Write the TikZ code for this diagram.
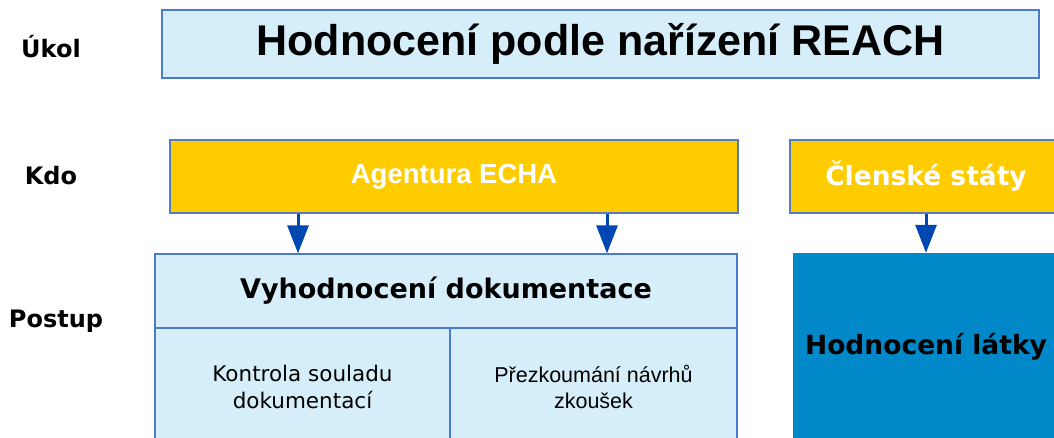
\documentclass[tikz,border=0pt]{standalone}
\usepackage{fontspec}
\setmainfont{DejaVu Sans}
\newfontfamily\arialfont{Liberation Sans}
\usetikzlibrary{arrows.meta}

\definecolor{paleblue}{HTML}{D6EEFA}
\definecolor{edgeblue}{HTML}{4A7CCB}
\definecolor{gold}{HTML}{FFCC00}
\definecolor{deepblue}{HTML}{0088C8}
\definecolor{arrowblue}{HTML}{0047B2}

\tikzset{
  pane/.style={draw=edgeblue, line width=1.3pt, fill=paleblue, inner sep=0pt},
  whobox/.style={draw=edgeblue!80!gray, line width=1.1pt, fill=gold, inner sep=0pt,
    text=white, font=\fontsize{26.5}{30}\selectfont\bfseries},
  rowlabel/.style={font=\fontsize{24}{26}\selectfont\bfseries},
  flow/.style={draw=arrowblue, line width=3pt, -{Triangle[width=21pt,length=28pt]}}
}

\begin{document}
\begin{tikzpicture}[x=1pt,y=-1pt]
  \clip (0,0) rectangle (1054,437);

  % Row labels
  \node[rowlabel] (ukol)   at (51,47)  {Úkol};
  \node[rowlabel] (kdo)    at (51,176) {Kdo};
  \node[rowlabel] (postup) at (56,321) {Postup};

  % Task
  \node[pane, minimum width=877pt, minimum height=68pt,
        font=\arialfont\fontsize{43}{46}\selectfont\bfseries]
        (task) at (600.5,44) {Hodnocení podle nařízení REACH};

  % Who
  \node[whobox, minimum width=568pt, minimum height=73pt,
        font=\arialfont\fontsize{27.5}{30}\selectfont\bfseries]
        (echa) at (454,176.5) {Agentura ECHA};
  \node[whobox, minimum width=272pt, minimum height=73pt]
        (states) at (926,176.5) {Členské státy};

  % Procedure
  \node[pane, minimum width=582pt, minimum height=74pt,
        font=\fontsize{27}{30}\selectfont\bfseries]
        (dossier) at (446,291) {Vyhodnocení dokumentace};
  \node[pane, minimum width=295pt, minimum height=117pt, align=center,
        font=\fontsize{21.5}{27}\selectfont]
        (compliance) at (302.5,386.5) {Kontrola souladu\\dokumentací};
  \node[pane, minimum width=287pt, minimum height=117pt, align=center,
        font=\arialfont\fontsize{21.5}{26}\selectfont]
        (proposals) at (593.5,386.5) {Přezkoumání návrhů\\zkoušek};
  \node[draw=deepblue, fill=deepblue, inner sep=0pt, minimum width=266pt,
        minimum height=188pt, font=\fontsize{26.5}{30}\selectfont\bfseries]
        (substance) at (926,347) {Hodnocení látky};

  % Arrows
  \coordinate (left)  at (298,0);
  \coordinate (right) at (607,0);
  \draw[flow] (echa.south -| left)  -- (dossier.north -| left);
  \draw[flow] (echa.south -| right) -- (dossier.north -| right);
  \draw[flow] (states.south) -- (substance.north);
\end{tikzpicture}
\end{document}
